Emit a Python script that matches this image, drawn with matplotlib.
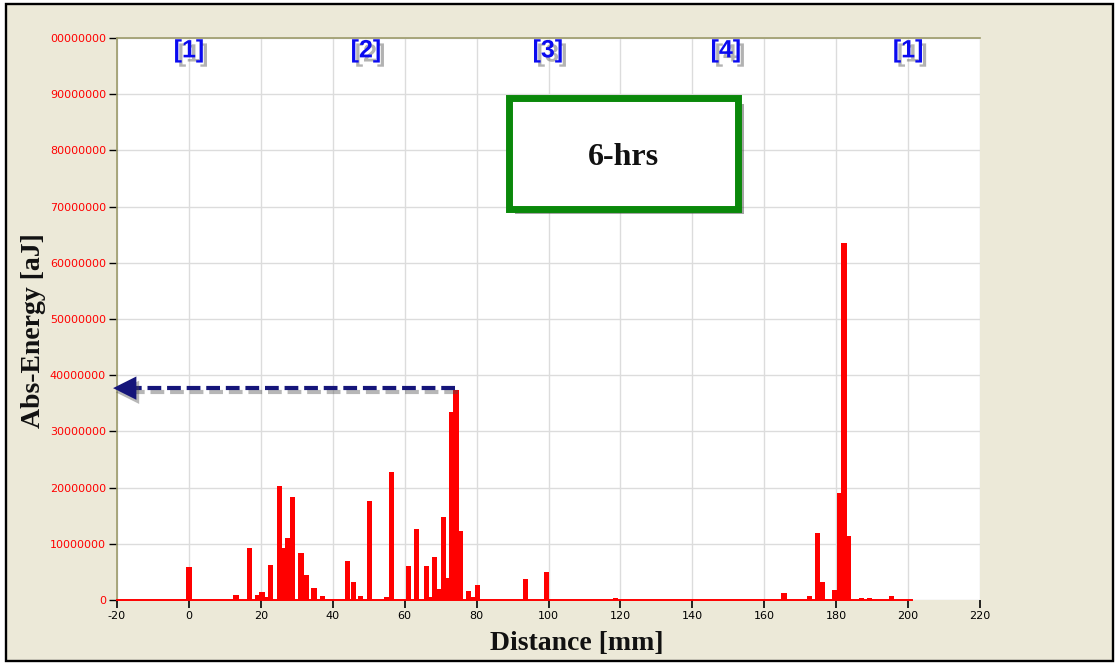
import matplotlib
matplotlib.use("Agg")
import matplotlib.pyplot as plt
import matplotlib.patches as mpatches
import matplotlib.patheffects as pe

# ---------------- data ----------------
distance_mm = [0, 13.1, 16.8, 19.1, 20.3, 21.5, 22.7, 25.2, 26.3, 27.4, 28.9, 31.2, 32.6, 34.8, 37.1,
               44.2, 45.7, 47.8, 50.2, 55.0, 56.4, 61.0, 63.4, 66.0, 67.1, 68.3, 69.5, 70.7, 71.9,
               73.0, 74.3, 75.6, 77.8, 79.0, 80.2, 93.7, 99.5, 118.7,
               165.5, 172.5, 174.9, 176.3, 179.6, 181.0, 182.2, 183.5, 187.0, 189.3, 195.4]
abs_energy_M = [5.8, 0.9, 9.3, 0.9, 1.4, 0.6, 6.3, 20.2, 9.3, 11.0, 18.3, 8.4, 4.4, 2.1, 0.8,
                6.9, 3.2, 0.8, 17.7, 0.6, 22.7, 6.1, 12.6, 6.1, 0.6, 7.6, 1.9, 14.7, 4.0,
                33.4, 37.4, 12.3, 1.65, 0.6, 2.7, 3.7, 5.0, 0.35,
                1.25, 0.65, 12.0, 3.2, 1.7, 19.0, 63.6, 11.4, 0.4, 0.4, 0.65]
abs_energy = [v * 1e6 for v in abs_energy_M]

baseline_x = [-20, 201]

x_ticks = [-20, 0, 20, 40, 60, 80, 100, 120, 140, 160, 180, 200, 220]
y_ticks = [0, 10e6, 20e6, 30e6, 40e6, 50e6, 60e6, 70e6, 80e6, 90e6, 100e6]
y_tick_labels = ["0", "10000000", "20000000", "30000000", "40000000", "50000000",
                 "60000000", "70000000", "80000000", "90000000", "00000000"]

sensor_labels = ["[1]", "[2]", "[3]", "[4]", "[1]"]
sensor_x = [0, 49.2, 99.8, 149.3, 200]
sensor_label_y = 97.8e6

box_text = "6-hrs"
box_x = [89.0, 152.7]
box_y = [69.6e6, 89.3e6]

arrow_from_x = 74.0
arrow_to_x = -21.1
arrow_y = 37.7e6

# ---------------- figure ----------------
W, H = 1115, 663
fig = plt.figure(figsize=(W / 100, H / 100), dpi=100)
fig.patch.set_facecolor("white")
frame = mpatches.Rectangle((6 / W, 2.5 / H), (1112.5 - 6) / W, (659.5 - 2.5) / H,
                           transform=fig.transFigure, facecolor="#ECE9D8",
                           edgecolor="black", linewidth=1.7, zorder=-10)
fig.patches.append(frame)

ax = fig.add_axes([117 / W, 1 - 600 / H, (980 - 117) / W, (600 - 38) / H])
ax.set_zorder(1)
ax.set_facecolor("white")

ax.set_xlim(-20, 220)
ax.set_ylim(0, 100e6)

ax.bar(distance_mm, abs_energy, width=1.45, color="#FF0000", linewidth=0, zorder=3)
ax.plot(baseline_x, [0, 0], color="#FF0000", lw=1.4, zorder=3, clip_on=False)

ax.set_xticks(x_ticks)
ax.set_xticklabels([str(t) for t in x_ticks])
ax.set_yticks(y_ticks)
ax.set_yticklabels(y_tick_labels)
ax.grid(True, color="#DCDCDC", lw=1.0, zorder=0)
ax.set_axisbelow(True)

ax.tick_params(axis="x", direction="out", length=6, width=1.2, color="black",
               labelsize=8, labelcolor="black", pad=2)
ax.tick_params(axis="y", direction="out", length=6, width=1.0, color="black",
               labelsize=8, labelcolor="#FF0000", pad=2)

for s in ["right", "bottom"]:
    ax.spines[s].set_visible(False)
for s in ["left", "top"]:
    ax.spines[s].set_color("#9C9A6A")
    ax.spines[s].set_linewidth(1.2)

ax.text(0.533, -0.078, "Distance [mm]", transform=ax.transAxes, ha="center", va="center",
        fontsize=20, fontweight="bold", family="Liberation Serif", color="#111111")
ax.text(-0.097, 0.48, "Abs-Energy [aJ]", transform=ax.transAxes, ha="center", va="center",
        rotation=90, fontsize=20, fontweight="bold", family="Liberation Serif", color="#111111")

shadow = [pe.withSimplePatchShadow(offset=(3, -3), shadow_rgbFace="0.4", alpha=0.5)]
for lab, xx in zip(sensor_labels, sensor_x):
    ax.text(xx, sensor_label_y, lab, ha="center", va="center", fontsize=18, fontweight="bold",
            family="Liberation Sans", color="#0A0AF0", path_effects=shadow, zorder=6)

box = mpatches.Rectangle((box_x[0], box_y[0]), box_x[1] - box_x[0], box_y[1] - box_y[0],
                         facecolor="white", edgecolor="#0A880A", linewidth=5, zorder=7,
                         joinstyle="miter",
                         path_effects=[pe.withSimplePatchShadow(offset=(4, -4),
                                                                shadow_rgbFace="0.3", alpha=0.5)])
ax.add_patch(box)
ax.text((box_x[0] + box_x[1]) / 2, (box_y[0] + box_y[1]) / 2 - 0.8e6, box_text,
        ha="center", va="center", fontsize=23, fontweight="bold",
        family="Liberation Serif", color="#111111", zorder=8)

navy = "#15157A"
line_shadow = [pe.SimpleLineShadow(offset=(2, -3), shadow_color="0.3", alpha=0.4), pe.Normal()]
ax.plot([arrow_from_x, arrow_to_x + 5], [arrow_y, arrow_y], color=navy, lw=3,
        ls=(0, (3.3, 1.4)), zorder=6, clip_on=False, path_effects=line_shadow)
ax.annotate("", xy=(arrow_to_x, arrow_y), xytext=(arrow_to_x + 7, arrow_y),
            arrowprops=dict(arrowstyle="-|>,head_length=0.6,head_width=0.3",
                            mutation_scale=28, color=navy, lw=0, shrinkA=0, shrinkB=0,
                            path_effects=[pe.withSimplePatchShadow(offset=(2, -3),
                                                                   shadow_rgbFace="0.3",
                                                                   alpha=0.4)]),
            zorder=6, annotation_clip=False)

fig.savefig("out.png", dpi=100, facecolor=fig.get_facecolor())
